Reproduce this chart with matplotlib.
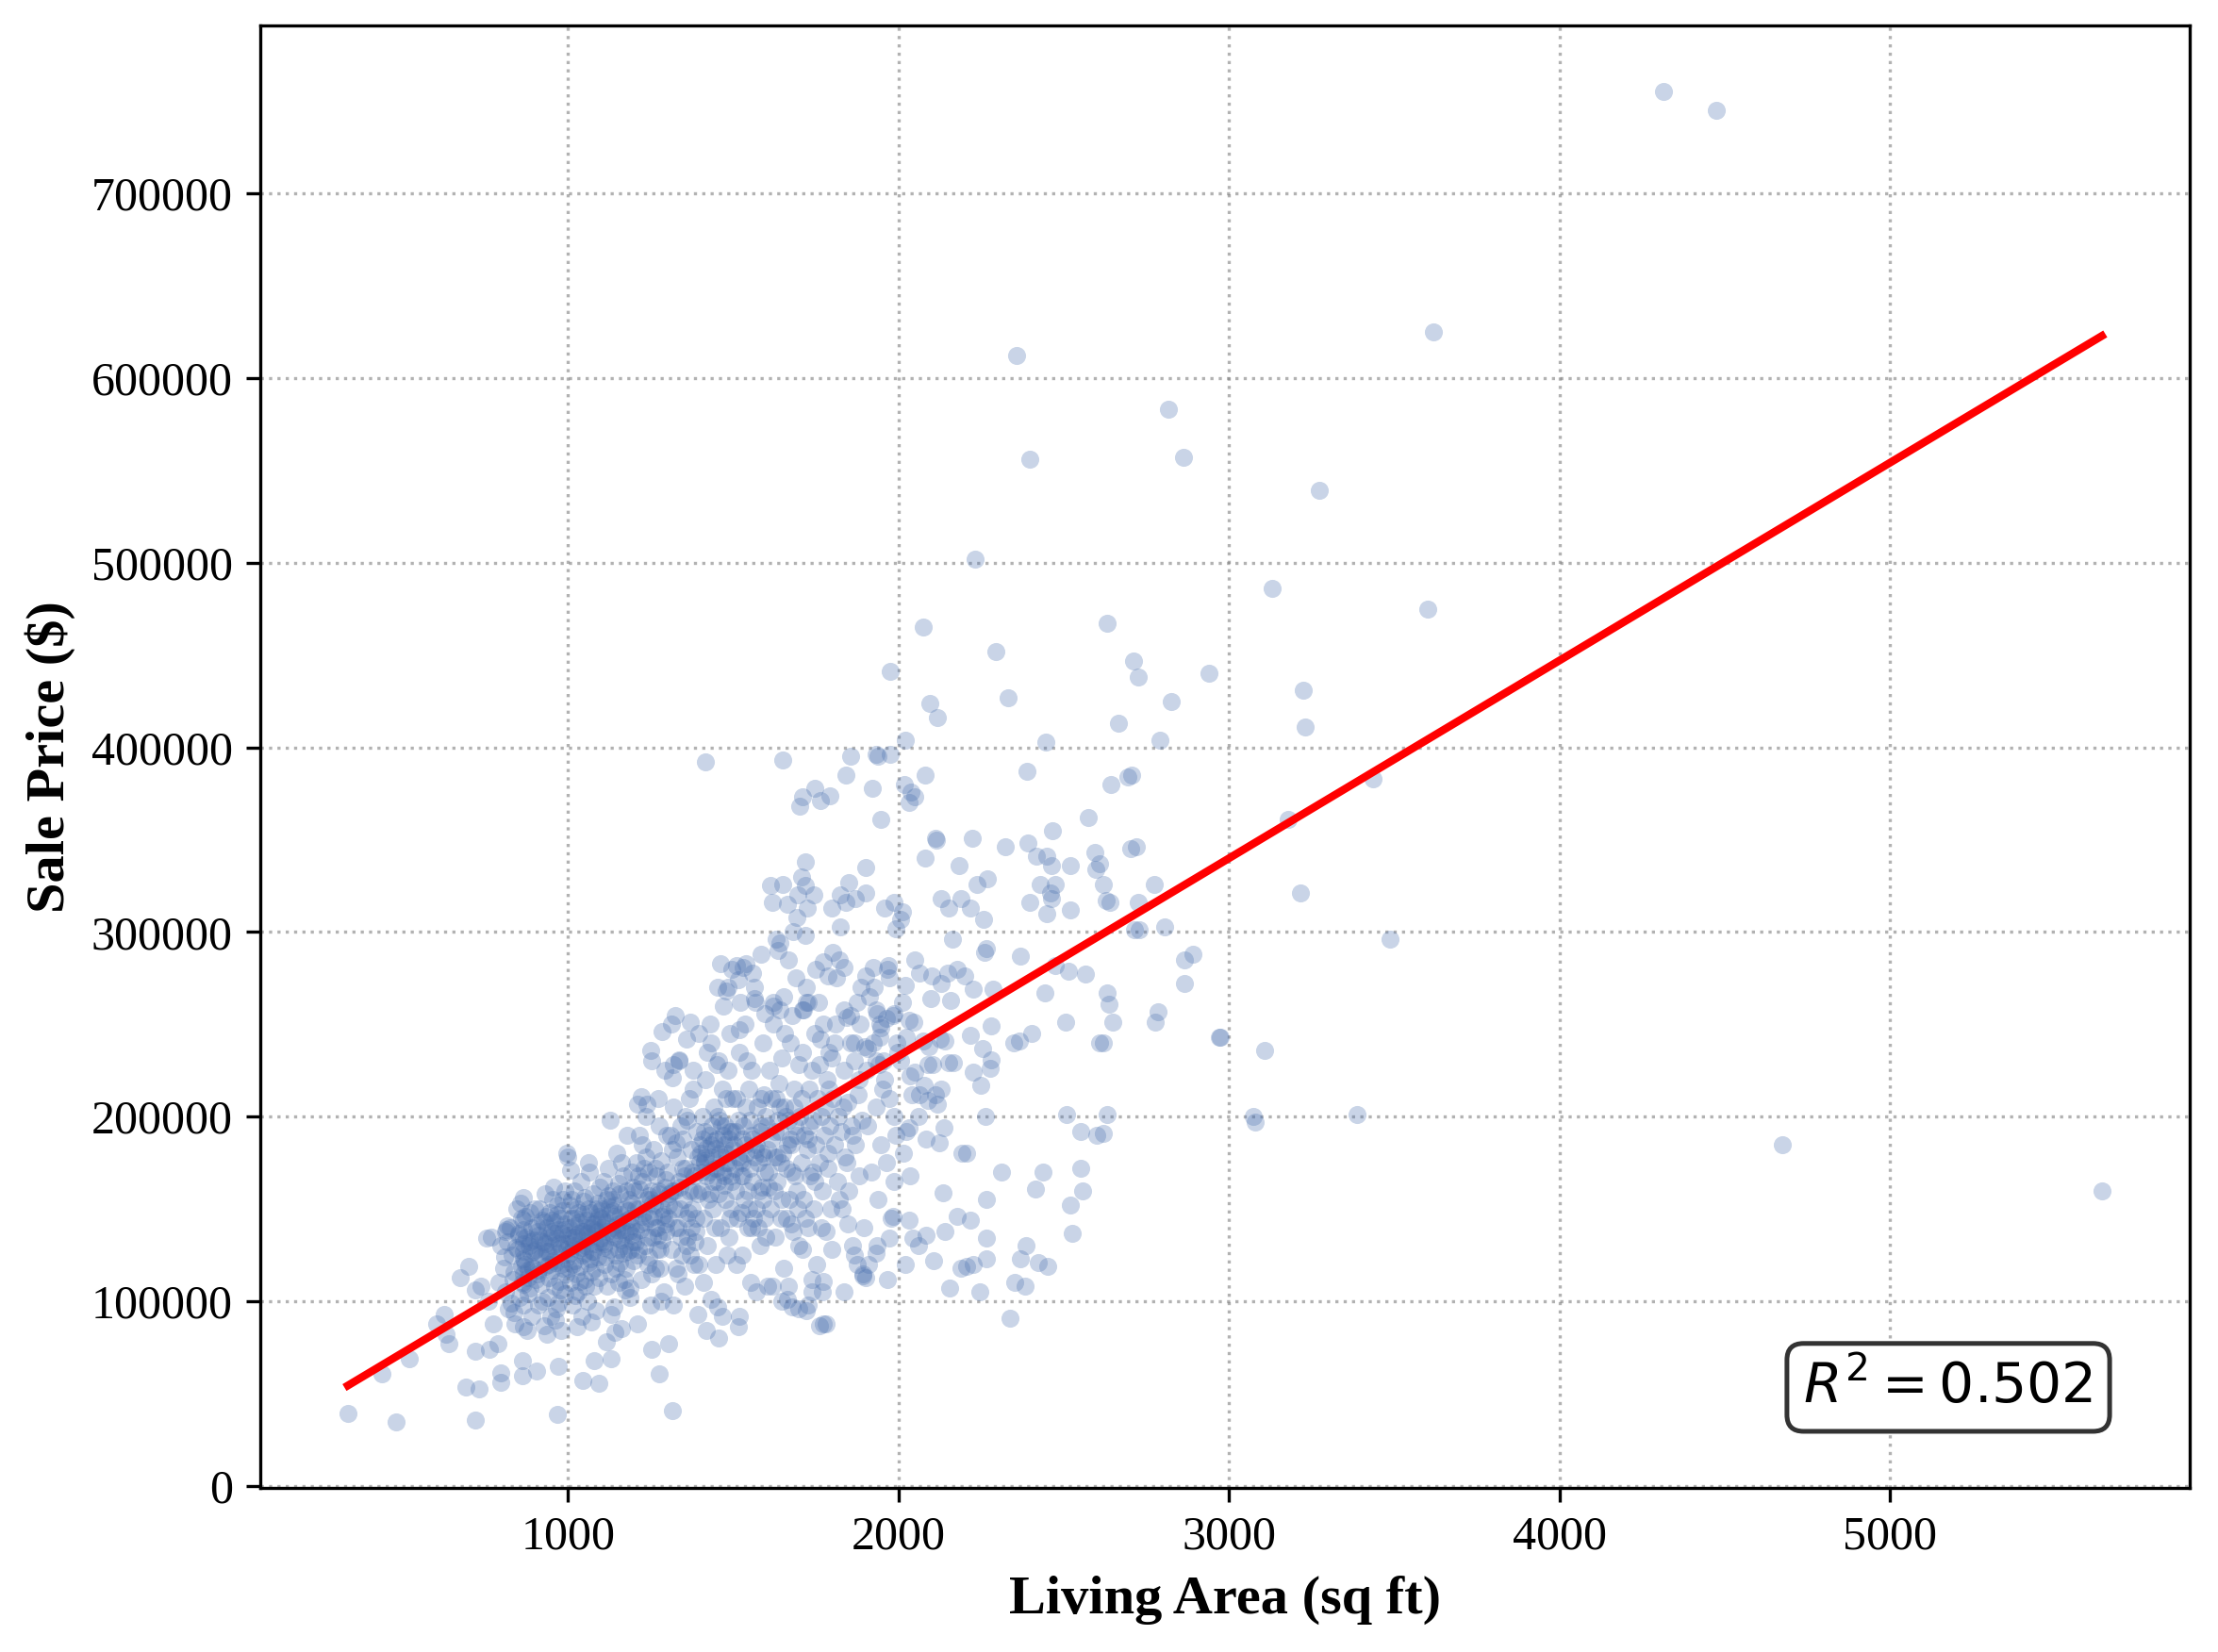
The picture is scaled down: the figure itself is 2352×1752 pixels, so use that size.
import numpy as np
import matplotlib
matplotlib.use("Agg")
import matplotlib.pyplot as plt

# ---------------- data (living area sq ft, sale price in $1000) ----------------
low_sparse = [(334,39.3),(438,60.6),(480,34.9),(520,68.8),(602,87.6),(626,92.7),(631,82),(640,77),(673,113),
              (692,53.5),(699,119),(720,35.6),(720,106),(730,52.6),(736,108),(719,73),(753,134),(760,100),
              (762,74),(767,135),(775,88),(787,77),(790,110),(796,56),(796,61),(796,130),(815,139),
              (969,38.7),(1045,57),(1093,55.6),(1078,68),(1130,68.8),(1276,60.6),(1317,40.7),(863,68),
              (863,59.5),(905,62),(970,65),(1306,77),(1188,107),(1141,83),(1252,74),(1393,93),(1453,97),
              (1517,86),(1667,108),(1679,97),(1726,98),(1761,87),(1876,120),(1893,114),(1931,126),(1966,112),
              (1902,113),(1605,108),(1664,101),(1698,96),(1774,88),(1738,105),(1774,111),(1420,84),(1456,80),
              (1466,92)]

core_800_999 = [(804,118),(810,105),(816,132),(820,96),(825,140),(830,125),(833,112),(840,88),(845,150),(848,128),
    (852,136),(855,102),(858,119),(860,145),(864,123),(864,131),(864,115),(864,109),(864,139),(864,127),(864,98),
    (864,144),(866,156),(870,120),(874,135),(876,84),(880,113),(882,130),(884,148),(886,107),(888,126),(890,140),
    (892,92),(894,118),(896,133),(898,150),(808,124),(818,141),(828,99),(838,116),(842,129),(850,137),(862,110),
    (868,122),(872,146),(878,104),(885,132),(891,119),(897,127),(812,138),(836,94),(856,153),(864,86),(864,134),
    (880,117),
    (902,128),(905,141),(908,115),(910,98),(912,136),(915,150),(918,124),(920,109),(922,144),(925,132),(928,87),
    (930,119),(932,158),(934,127),(936,140),(938,102),(940,135),(942,113),(944,148),(946,125),(948,92),(950,138),
    (952,117),(954,130),(956,162),(958,108),(960,143),(962,121),(964,134),(966,96),(968,152),(970,126),(972,139),
    (974,111),(976,145),(978,129),(980,84),(982,137),(984,118),(986,155),(988,131),(990,104),(992,142),(994,123),
    (996,180),(998,136),(903,112),(913,133),(923,100),(933,146),(943,120),(953,155),(963,90),(973,131),(983,149),
    (993,115),(999,178),(907,138),(917,126),(927,143),(937,82),(947,134),(957,122),(967,147),(977,106),(987,139),
    (997,128),(911,117),(931,131),(951,144),(971,99),(991,160),(939,127),(959,137),(979,120)]

core_1000_1399 = [(1002,140),(1004,126),(1006,152),(1008,110),(1010,134),(1012,145),(1014,98),(1016,130),(1018,160),
    (1020,122),(1022,141),(1024,115),(1026,136),(1028,150),(1030,105),(1032,128),(1034,143),(1036,119),(1038,165),
    (1040,133),(1042,92),(1044,147),(1046,125),(1048,138),(1050,112),(1052,156),(1054,130),(1056,144),(1058,100),
    (1060,137),(1062,121),(1064,170),(1066,135),(1068,148),(1070,116),(1072,140),(1074,127),(1076,158),(1078,108),
    (1080,142),(1082,131),(1084,150),(1086,95),(1088,138),(1090,124),(1092,146),(1094,113),(1096,162),(1098,134),
    (1001,118),(1011,155),(1021,103),(1031,148),(1041,138),(1051,126),(1061,175),(1071,89),(1081,139),(1091,153),
    (1003,131),(1013,120),(1023,145),(1033,137),(1043,129),(1053,108),(1063,150),(1073,142),(1083,118),(1093,132),
    (1007,171),(1027,86),(1047,154),(1067,123),(1087,144),(1017,135),(1037,111),(1057,140),(1077,127),(1097,149),
    (1102,150),(1105,132),(1108,165),(1110,120),(1113,143),(1116,155),(1118,108),(1120,138),(1123,172),(1126,128),
    (1128,148),(1130,115),(1133,140),(1136,160),(1138,97),(1140,135),(1143,152),(1146,125),(1148,180),(1150,142),
    (1153,110),(1156,158),(1158,133),(1160,147),(1163,85),(1166,139),(1168,168),(1170,130),(1173,150),(1176,118),
    (1178,144),(1180,190),(1183,127),(1186,155),(1188,102),(1190,141),(1193,136),(1196,162),(1198,122),(1101,145),
    (1111,131),(1121,157),(1131,93),(1141,146),(1151,134),(1161,175),(1171,112),(1181,149),(1191,128),(1104,140),
    (1114,124),(1124,151),(1134,137),(1144,118),(1154,164),(1164,143),(1174,106),(1184,138),(1194,153),(1107,129),
    (1127,198),(1147,139),(1167,126),(1187,145),(1117,78),(1137,149),(1157,121),(1177,160),(1197,132),(1112,142),
    (1132,155),(1152,128),(1172,137),(1192,170),(1211,207),(1221,211),
    (1202,160),(1205,138),(1208,175),(1211,125),(1214,150),(1217,190),(1220,142),(1223,112),(1226,165),(1229,148),
    (1232,130),(1235,200),(1238,155),(1241,120),(1244,170),(1247,145),(1250,98),(1253,160),(1256,135),(1259,182),
    (1262,152),(1265,118),(1268,168),(1271,140),(1274,210),(1277,158),(1280,128),(1283,176),(1286,146),(1289,105),
    (1292,162),(1295,138),(1298,190),(1204,150),(1214,128),(1224,185),(1234,143),(1244,157),(1254,115),(1264,172),
    (1274,136),(1284,150),(1294,225),(1206,132),(1216,161),(1226,146),(1236,178),(1246,124),(1256,153),(1266,140),
    (1276,195),(1286,133),(1296,166),(1209,88),(1229,172),(1249,155),(1269,128),(1289,147),(1219,139),(1239,207),
    (1259,146),(1279,118),(1299,156),(1212,168),(1242,135),(1272,160),(1297,142),(1252,230),(1282,100),
    (1302,170),(1306,145),(1310,190),(1313,128),(1316,160),(1320,205),(1323,150),(1326,118),(1330,178),(1333,140),
    (1336,230),(1340,162),(1343,135),(1346,188),(1350,155),(1353,108),(1356,172),(1360,145),(1363,198),(1366,160),
    (1370,125),(1373,182),(1376,150),(1380,215),(1383,168),(1386,138),(1390,192),(1393,158),(1396,120),(1399,175),
    (1305,152),(1315,182),(1325,140),(1335,165),(1345,125),(1355,200),(1365,148),(1375,170),(1385,132),(1395,245),
    (1308,158),(1318,98),(1328,186),(1338,150),(1348,172),(1358,130),(1368,210),(1378,160),(1388,145),(1398,185),
    (1312,250),(1332,115),(1352,168),(1372,140),(1392,178),(1322,160),(1342,195),(1362,135),(1382,120),(1319,228),
    (1324,255),(1370,251),(1284,246),(1360,242),(1250,236),(1336,231),(1379,225),(1317,221)]

core_1400_1699 = [(1402,180),(1405,160),(1408,200),(1411,145),(1414,175),(1417,220),(1420,168),(1423,130),(1426,190),
    (1429,158),(1432,240),(1435,178),(1438,150),(1441,205),(1444,172),(1447,120),(1450,188),(1453,165),(1456,230),
    (1459,180),(1462,140),(1465,195),(1468,170),(1471,260),(1474,185),(1477,155),(1480,210),(1483,175),(1486,135),
    (1489,192),(1492,168),(1495,280),(1498,182),(1404,170),(1414,192),(1424,155),(1434,185),(1444,140),(1454,200),
    (1464,178),(1474,163),(1484,225),(1494,150),(1407,188),(1417,178),(1427,170),(1437,195),(1447,183),(1457,158),
    (1467,215),(1477,175),(1487,188),(1497,165),(1409,110),(1429,250),(1449,172),(1469,190),(1489,145),(1419,183),
    (1439,165),(1459,198),(1479,180),(1499,210),(1412,176),(1442,187),(1472,168),(1496,192),(1452,270),(1482,125),
    (1422,235),(1462,283),(1432,101),(1476,195),(1417,392),(1479,268),(1484,270),(1450,228),
    (1502,185),(1506,160),(1510,210),(1513,145),(1516,178),(1520,235),(1523,168),(1526,125),(1530,195),(1533,155),
    (1536,250),(1540,180),(1543,140),(1546,215),(1550,172),(1553,110),(1556,190),(1560,165),(1563,270),(1566,182),
    (1570,150),(1573,205),(1576,175),(1580,130),(1583,195),(1586,162),(1590,240),(1593,178),(1596,145),(1599,200),
    (1505,172),(1515,198),(1525,148),(1535,185),(1545,160),(1555,225),(1565,178),(1575,140),(1585,210),(1595,170),
    (1508,192),(1518,92),(1528,175),(1538,205),(1548,150),(1558,188),(1568,262),(1578,160),(1588,180),(1598,135),
    (1511,282),(1531,168),(1551,198),(1571,185),(1591,155),(1521,176),(1541,230),(1561,145),(1581,192),(1509,120),
    (1539,283),(1569,105),(1592,212),(1527,188),(1557,140),(1531,281),(1560,278),(1517,274),(1583,288),(1521,262),
    (1564,264),(1520,247),(1490,245),
    (1602,195),(1606,170),(1610,225),(1613,150),(1616,188),(1620,260),(1623,178),(1626,135),(1630,210),(1633,165),
    (1636,290),(1640,192),(1643,145),(1646,232),(1650,180),(1653,118),(1656,205),(1660,172),(1663,315),(1666,198),
    (1670,155),(1673,240),(1676,185),(1680,138),(1683,215),(1686,168),(1690,275),(1693,190),(1696,150),(1699,228),
    (1605,182),(1615,210),(1625,160),(1635,198),(1645,175),(1655,245),(1665,185),(1675,142),(1685,205),(1695,320),
    (1608,162),(1618,108),(1628,192),(1638,218),(1648,155),(1658,200),(1668,285),(1678,170),(1688,195),(1698,130),
    (1612,325),(1632,178),(1652,265),(1672,188),(1692,160),(1622,250),(1642,205),(1662,145),(1682,300),(1647,100),
    (1650,393),(1631,296),(1641,294),(1619,316),(1650,326),(1693,308),(1597,256),(1621,262),(1641,258),(1678,255)]

core_1700_1999 = [(1702,200),(1706,175),(1710,235),(1713,155),(1716,190),(1720,270),(1723,182),(1726,140),(1730,215),
    (1733,168),(1740,198),(1743,150),(1746,245),(1750,185),(1753,120),(1756,210),(1760,175),(1766,200),(1770,160),
    (1773,250),(1776,190),(1780,138),(1783,220),(1786,172),(1793,195),(1796,150),(1799,232),(1708,210),(1718,145),
    (1728,188),(1738,225),(1748,165),(1758,262),(1768,140),(1778,205),(1788,180),(1798,128),(1711,258),(1731,195),
    (1751,280),(1771,105),(1791,215),(1721,95),(1741,170),(1761,228),(1781,88),(1709,128),(1739,112),
    (1746,378),(1711,373),(1701,368),(1765,371),(1792,374),(1717,338),(1707,330),(1718,325),(1745,320),(1724,313),
    (1717,298),(1788,276),(1774,284),(1721,262),(1726,262),(1712,258),(1765,242),(1790,235),
    (1802,210),(1806,185),(1810,250),(1814,165),(1818,200),(1822,285),(1826,192),(1830,150),(1834,225),(1838,178),
    (1846,208),(1850,160),(1854,255),(1858,195),(1862,130),(1866,230),(1870,185),(1878,212),(1882,168),(1886,270),
    (1890,198),(1894,140),(1898,238),(1808,240),(1820,155),(1832,205),(1844,175),(1856,240),(1868,125),(1880,220),
    (1892,115),(1812,275),(1836,105),(1860,190),(1884,250),(1848,142),
    (1855,395),(1840,385),(1850,327),(1823,320),(1869,318),(1840,316),(1798,313),(1823,303),(1801,289),(1836,281),
    (1836,258),(1845,254),(1874,262),(1868,240),
    (1903,225),(1908,195),(1913,265),(1918,170),(1923,240),(1933,205),(1938,155),(1943,250),(1948,185),(1958,220),
    (1963,175),(1968,280),(1973,210),(1978,145),(1983,255),(1988,200),(1998,235),(1926,270),(1936,130),(1946,248),
    (1956,230),(1986,165),(1996,240),(1911,120),(1931,258),(1951,215),(1971,275),(1991,190),(1941,228),
    (1976,441),(1931,396),(1974,396),(1937,395),(1922,378),(1948,361),(1900,335),(1902,321),(1959,313),(1986,316),
    (1993,302),(1925,281),(1969,282),(1902,276),(1936,256),(1988,256),(1964,253),(1945,243),(1907,237),(1931,230)]

upper_2000_2999 = [(2020,404),(2096,424),(2117,416),(2082,385),(2019,380),(2038,376),(2050,373),(2031,370),(2116,350),
    (2081,340),(2012,311),(2007,307),(2130,318),(2050,285),(2064,278),(2100,276),(2130,272),(2020,271),(2097,264),
    (2075,465),(2232,502),(2295,452),(2331,427),(2390,387),(2446,403),(2112,351),(2223,351),(2467,355),(2183,336),
    (2323,346),(2391,348),(2418,341),(2450,341),(2462,336),(2519,336),(2594,343),(2610,337),(2597,334),(2703,345),
    (2773,326),(2475,326),(2430,326),(2459,321),(2463,318),(2268,329),(2237,326),(2189,318),(2219,313),(2620,326),
    (2640,316),(2726,316),(2631,467),(2711,447),(2725,438),(2665,413),(2792,404),(2642,380),(2694,384),(2575,362),
    (2705,385),(2719,346),(2151,313),(2397,316),(2450,310),(2521,312),(2630,317),(2715,301),(2729,301),(2805,303),
    (2258,307),(2940,440),(2826,425),(2816,583),(2863,557),(2359,612),(2397,556)]

mid_2000_2999 = [(2163,296),(2265,291),(2260,289),(2369,287),(2150,278),(2178,280),(2202,276),(2226,269),(2159,263),
    (2285,269),(2442,267),(2476,282),(2514,279),(2566,277),(2633,267),(2638,261),(2648,251),(2867,285),(2891,288),
    (2867,272),(2787,257),(2778,251),(2975,243),(2507,251),(2402,245),(2350,240),(2365,241),(2610,240),(2620,240),
    (2256,237),(2280,249),(2218,244),(2280,231),(2278,226),(2226,224),(2248,217),(2153,229),(2167,229),(2130,215),
    (2088,228),(2103,228),(2064,212),(2088,209),(2117,207),(2112,212),(2032,252),(2046,251),(2023,243),(2076,241),
    (2093,238),(2126,242),(2140,241),(2036,222),(2050,224),(2040,212),(2079,217),(2264,200),(2509,201),(2632,201),
    (2552,192),(2600,190),(2620,191),(2138,194),(2085,188),(2125,186),(2193,180),(2205,180),(2033,194),(2023,192),
    (2313,170),(2438,170),(2035,168),(2135,159),(2416,161),(2556,160),(2265,155),(2521,152),(2179,146),(2219,144),
    (1985,146),(2032,144),(1971,134),(2083,136),(2140,138),(2526,137),(2266,134),(2062,130),(2387,130),(2368,123),
    (2266,123),(2188,118),(2207,119),(2382,108),(2154,107),(2245,105),(2337,91),(2043,134),(2107,122),(2226,120),
    (2021,120),(2353,110),(2423,121),(2453,119),(2551,172),(2012,262),(2060,200),(2008,230),(2016,180)]

outliers = [(2970,243),(3107,236),(3073,200),(3080,197),(3389,201),(3132,486),(3179,361),(3218,321),(3226,431),
    (3231,411),(3274,539),(3436,383),(3487,296),(3603,475),(3620,625),(4316,755),(4476,745),(4676,185),(5642,160)]

# regression line
fit_slope = 107.1       # $ per sq ft
fit_intercept = 18600   # $
r_squared_text = r"$R^2 = 0.502$"

groups = [low_sparse, core_800_999, core_1000_1399, core_1400_1699, core_1700_1999,
          upper_2000_2999, mid_2000_2999, outliers]
pts = np.array([p for g in groups for p in g], dtype=float)
living_area = pts[:, 0]
sale_price = pts[:, 1] * 1000

# ---------------- plot ----------------
plt.rcParams['font.family'] = ['Liberation Serif', 'DejaVu Serif']
plt.rcParams['mathtext.fontset'] = 'dejavusans'

fig = plt.figure(figsize=(7.84, 5.84), dpi=300)
ax = fig.add_axes([0.1173, 0.0993, 0.8699, 0.8853])

ax.scatter(living_area, sale_price, s=21, color='#4c72b0', alpha=0.3, linewidths=0, zorder=2)

xl = np.array([living_area.min(), living_area.max()])
ax.plot(xl, fit_intercept + fit_slope * xl, color='red', lw=2, zorder=3)

ax.grid(True, linestyle=':', color='gray', alpha=0.6, linewidth=0.8, zorder=0)
ax.set_axisbelow(True)

ax.set_xlabel('Living Area (sq ft)', fontsize=14, fontweight='bold')
ax.set_ylabel('Sale Price ($)', fontsize=14, fontweight='bold')
ax.tick_params(labelsize=12)
ax.ticklabel_format(style='plain', axis='y')

ax.text(0.95, 0.05, r_squared_text, transform=ax.transAxes, ha='right', va='bottom',
        fontsize=14, family='DejaVu Sans',
        bbox=dict(boxstyle='round,pad=0.3', facecolor='white', edgecolor='#333333', linewidth=1.2))

fig.savefig('out.png', dpi=300)
